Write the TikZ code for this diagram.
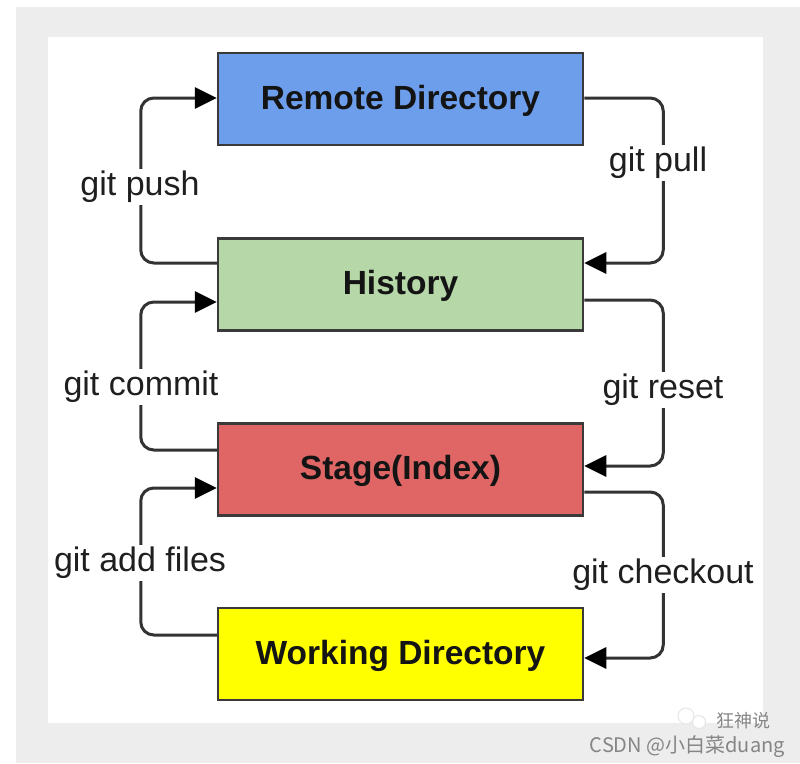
\documentclass[tikz,border=0pt]{standalone}
\usepackage{fontspec}
\setmainfont{Liberation Sans}
\newfontfamily\cjkfont{Noto Sans CJK SC}
\usetikzlibrary{arrows.meta}
\definecolor{bgray}{HTML}{EDEDED}
\definecolor{rblue}{HTML}{6D9EEB}
\definecolor{hgreen}{HTML}{B6D7A8}
\definecolor{sred}{HTML}{E06666}
\definecolor{wyellow}{HTML}{FFFF00}
\definecolor{edgegray}{HTML}{3A3A3A}
\definecolor{linegray}{HTML}{333333}
\definecolor{wmgray}{HTML}{858585}
\tikzset{
  box/.style={draw=edgegray, line width=2.5pt, minimum width=365pt, minimum height=92pt,
    inner sep=0pt, text height=25pt, text depth=5pt,
    font=\fontsize{33.5}{38}\selectfont\bfseries, text=black!92},
  conn/.style={draw=linegray, line width=3pt, rounded corners=13pt,
    -{Triangle[length=22pt,width=21pt,fill=black,color=black]}},
  lbl/.style={fill=white, inner sep=2pt, text=black!88, font=\fontsize{34}{40}\selectfont},
}
\begin{document}
\begin{tikzpicture}[x=1pt,y=-1pt]
\useasboundingbox (0,0) rectangle (800,763);
\fill[white] (0,0) rectangle (800,763);
\fill[bgray] (16,7) rectangle (800,763);
\fill[white] (48,37) rectangle (763,723);

\node[box, fill=rblue]   (remote) at (400.5,99)    {Remote Directory};
\node[box, fill=hgreen]  (hist)   at (400.5,284.5) {History};
\node[box, fill=sred]    (stage)  at (400.5,469.5) {Stage(Index)};
\node[box, fill=wyellow] (work)   at (400.5,654)   {Working Directory};

% left side (upward)
\draw[conn] ([yshift=21.5pt]hist.west) -- ++(-76,0) |- ([yshift=1pt]remote.west);
\draw[conn] ([yshift=19.5pt]stage.west) -- ++(-76,0) |- ([yshift=-17.5pt]hist.west);
\draw[conn] ([yshift=19pt]work.west) -- ++(-76,0) |- ([yshift=-18.5pt]stage.west);

% right side (downward)
\draw[conn] ([yshift=1pt]remote.east) -- ++(79,0) |- ([yshift=21.5pt]hist.east);
\draw[conn] ([yshift=-15.5pt]hist.east) -- ++(79,0) |- ([yshift=3.5pt]stage.east);
\draw[conn] ([yshift=-22.5pt]stage.east) -- ++(79,0) |- ([yshift=-4pt]work.east);

\node[lbl] (lpush)   at (140,187) {git push};
\node[lbl] (lcommit) at (141,387) {git commit};
\node[lbl] (ladd)    at (140,563) {git add files};
\node[lbl] (lpull)   at (658,163) {git pull};
\node[lbl] (lreset)  at (663,390) {git reset};
\node[lbl] (lcheck)  at (663,575) {git checkout};

% watermark
\draw[white!80!gray, line width=1pt, fill=white] (686,716) circle (8);
\draw[white!80!gray, line width=1pt, fill=white] (699,722) circle (6.5);
\node[anchor=base west, text=wmgray, inner sep=0pt, font=\cjkfont\fontsize{18}{20}\selectfont] (wm1) at (716,727) {狂神说};
\node[anchor=base east, text=wmgray, inner sep=0pt, font=\cjkfont\fontsize{20}{24}\selectfont] (wm2) at (785,752) {CSDN @小白菜duang};
\end{tikzpicture}
\end{document}
